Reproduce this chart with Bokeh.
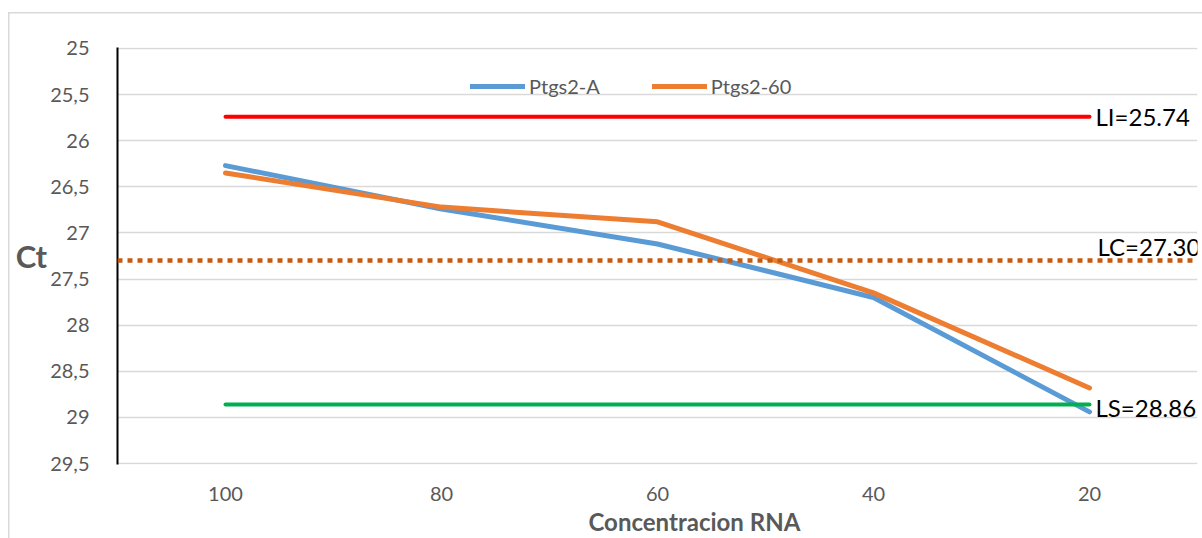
from bokeh.plotting import figure
from bokeh.models import FactorRange, Range1d, FixedTicker, Span, Label, Legend, LegendItem, Title
from bokeh.embed import file_html
from bokeh.resources import INLINE

# ---- data ----
conc = ["100", "80", "60", "40", "20"]
ptgs2_a = [26.27, 26.74, 27.12, 27.70, 28.94]
ptgs2_60 = [26.35, 26.72, 26.88, 27.65, 28.68]
LI = 25.74
LC = 27.30
LS = 28.86
y_ticks = [25, 25.5, 26, 26.5, 27, 27.5, 28, 28.5, 29, 29.5]
y_tick_labels = ["25", "25,5", "26", "26,5", "27", "27,5", "28", "28,5", "29", "29,5"]

FONT = "Lato"
GRAY = "#595959"

p = figure(width=1202, height=538,
           x_range=FactorRange(*conc, range_padding=0),
           y_range=Range1d(29.51, 24.99),
           output_backend="svg", toolbar_location=None,
           min_border_left=117, min_border_right=5,
           min_border_top=47, min_border_bottom=74)
p.border_fill_alpha = 0
p.background_fill_color = "white"
p.outline_line_color = None
p.styles = {
    "background": "linear-gradient(#d9d9d9,#d9d9d9) 8px 12px / 1.5px 100% no-repeat, "
                  "linear-gradient(#d9d9d9,#d9d9d9) 8px 12px / 100% 1.5px no-repeat, white"
}

# axes
p.yaxis.ticker = FixedTicker(ticks=y_ticks)
p.yaxis.major_label_overrides = {t: l for t, l in zip(y_ticks, y_tick_labels)}
p.yaxis.axis_line_color = "black"
p.yaxis.axis_line_width = 2
p.yaxis.major_tick_line_color = None
p.yaxis.minor_tick_line_color = None
p.yaxis.major_label_standoff = 22
p.yaxis.major_label_text_font = FONT
p.yaxis.major_label_text_font_size = "20px"
p.yaxis.major_label_text_color = GRAY
p.yaxis.axis_label = "Ct"
p.yaxis.axis_label_orientation = "horizontal"
p.yaxis.axis_label_standoff = 0
p.yaxis.axis_label_text_font = FONT
p.yaxis.axis_label_text_font_style = "bold"
p.yaxis.axis_label_text_font_size = "31px"
p.yaxis.axis_label_text_color = GRAY

p.xaxis.axis_line_color = None
p.xaxis.major_tick_line_color = None
p.xaxis.minor_tick_line_color = None
p.xaxis.major_label_standoff = 16
p.xaxis.major_label_text_font = FONT
p.xaxis.major_label_text_font_size = "20px"
p.xaxis.major_label_text_color = GRAY

p.xgrid.grid_line_color = None
p.ygrid.grid_line_color = "#D9D9D9"
p.ygrid.grid_line_width = 1.5

# series
r_a = p.line(conc, ptgs2_a, line_color="#5B9BD5", line_width=5,
             line_cap="round", line_join="round")
r_60 = p.line(conc, ptgs2_60, line_color="#ED7D31", line_width=5,
              line_cap="round", line_join="round")

# reference lines
p.segment(x0=[conc[0]], x1=[conc[-1]], y0=[LI], y1=[LI],
          line_color="#FF0000", line_width=4, line_cap="round")
p.segment(x0=[conc[0]], x1=[conc[-1]], y0=[LS], y1=[LS],
          line_color="#00B050", line_width=4, line_cap="round")
p.add_layout(Span(location=LC, dimension="width", line_color="#C55A11",
                  line_width=4.5, line_dash="5 5"))

lab_kw = dict(text_font=FONT, text_font_size="24px", text_color="black")
p.add_layout(Label(x=4.5, y=LI, x_offset=6, text=f"LI={LI:.2f}",
                   text_align="left", text_baseline="middle", **lab_kw))
p.add_layout(Label(x=4.5, y=LC, x_offset=8, y_offset=0, text=f"LC={LC:.2f}",
                   text_align="left", text_baseline="bottom", **lab_kw))
p.add_layout(Label(x=4.5, y=LS, x_offset=6, y_offset=-3, text=f"LS={LS:.2f}",
                   text_align="left", text_baseline="middle", **lab_kw))

# x axis title
p.add_layout(Title(text="Concentracion RNA", align="left", offset=471,
                   text_font=FONT, text_font_style="bold", text_font_size="24px",
                   text_color=GRAY, standoff=3), "below")

# legend
legend = Legend(items=[LegendItem(label="Ptgs2-A", renderers=[r_a]),
                       LegendItem(label="Ptgs2-60", renderers=[r_60])],
                orientation="horizontal", location=(353, 366),
                glyph_width=55, glyph_height=24, label_height=24,
                label_standoff=4, spacing=52, padding=0, margin=0,
                border_line_color=None, background_fill_alpha=0,
                label_text_font=FONT, label_text_font_size="20px",
                label_text_color=GRAY)
p.add_layout(legend, "center")

open("out.html", "w").write(file_html(p, INLINE))
